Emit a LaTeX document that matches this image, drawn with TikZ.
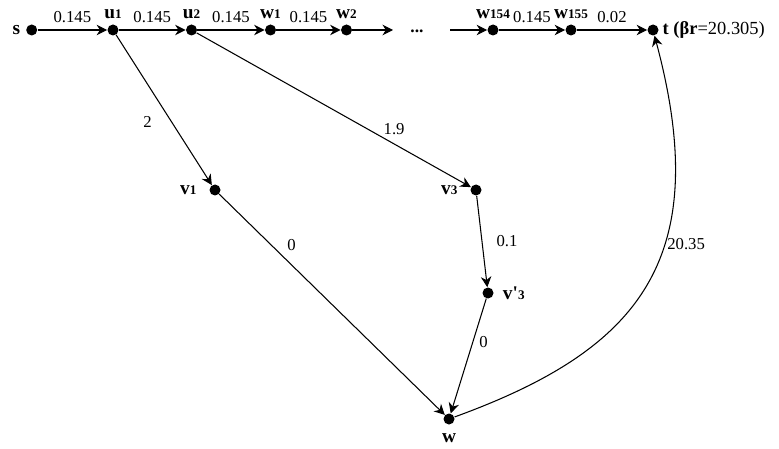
\documentclass[tikz,border=0pt]{standalone}
\usepackage{fontspec}
\setmainfont{Liberation Serif}
\usetikzlibrary{arrows.meta}
\newcommand{\vlab}[2]{\textbf{#1{\fontsize{7.5}{8}\selectfont #2}}}

\begin{document}
\begin{tikzpicture}[
  dot/.style={circle, fill=black, inner sep=0pt, minimum size=0.22cm},
  arc/.style={-{Stealth[length=6pt,width=6pt]}, line width=0.6pt},
  wt/.style={font=\fontsize{9.5}{11}\selectfont, inner sep=1pt},
  every label/.style={font=\fontsize{11}{12}\selectfont\bfseries, inner sep=1pt}]
\useasboundingbox (0,0) rectangle (15.58,-8.98);
% top row
\node[dot, label={[label distance=2pt]left:s}] (s) at (0.634,-0.60) {};
\node[dot, label={[label distance=2pt]above:\vlab{u}{1}}] (u1) at (2.26,-0.60) {};
\node[dot, label={[label distance=2pt]above:\vlab{u}{2}}] (u2) at (3.83,-0.60) {};
\node[dot, label={[label distance=2pt]above:\vlab{w}{1}}] (w1) at (5.41,-0.60) {};
\node[dot, label={[label distance=2pt]above:\vlab{w}{2}}] (w2) at (6.93,-0.60) {};
\coordinate (e1) at (7.86,-0.60);
\node[font=\bfseries] (dots) at (8.34,-0.62) {...};
\coordinate (e2) at (9.00,-0.60);
\node[dot, label={[label distance=2pt]above:\vlab{w}{154}}] (w154) at (9.86,-0.60) {};
\node[dot, label={[label distance=2pt]above:\vlab{w}{155}}] (w155) at (11.42,-0.60) {};
\node[dot, label={[label distance=1pt, font=\fontsize{10.5}{12}\selectfont\bfseries]right:{t (βr\textmd{=20.305)}}}] (t) at (13.06,-0.60) {};
% lower nodes
\node[dot, label={[label distance=6pt]left:\vlab{v}{1}}] (v1) at (4.30,-3.80) {};
\node[dot, label={[label distance=6pt]left:\vlab{v}{3}}] (v3) at (9.52,-3.80) {};
\node[dot, label={[label distance=4pt]right:\vlab{v\textquotesingle}{3}}] (v3p) at (9.76,-5.86) {};
\node[dot, label={[label distance=4pt]below:w}] (w) at (8.98,-8.38) {};
% edges
\draw[arc] (s) -- node[wt, above=3pt]{0.145} (u1);
\draw[arc] (u1) -- node[wt, above=3pt]{0.145} (u2);
\draw[arc] (u2) -- node[wt, above=3pt]{0.145} (w1);
\draw[arc] (w1) -- node[wt, above=3pt]{0.145} (w2);
\draw[arc] (w2) -- (e1);
\draw[arc] (e2) -- (w154);
\draw[arc] (w154) -- node[wt, above=3pt]{0.145} (w155);
\draw[arc] (w155) -- node[wt, above=3pt]{0.02} (t);
\draw[arc] (u1) -- node[wt, pos=.58, left=10pt]{2} (v1);
\draw[arc] (u2) -- node[wt, pos=.72, above=4pt]{1.9} (v3);
\draw[arc] (v1) -- node[wt, pos=.23, right=8pt]{0} (w);
\draw[arc] (v3) -- node[wt, pos=.5, right=7pt]{0.1} (v3p);
\draw[arc] (v3p) -- node[wt, pos=.38, right=2.5pt]{0} (w);
\draw[arc] (w) .. controls +(20:4) and +(-75:4.8) .. node[wt, pos=.61, right=0.5pt]{20.35} (t);
\end{tikzpicture}
\end{document}
